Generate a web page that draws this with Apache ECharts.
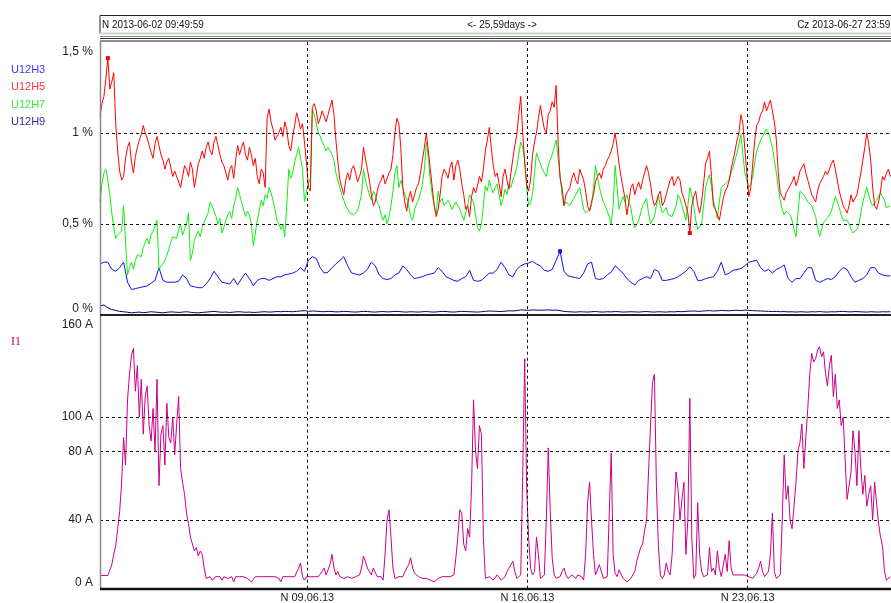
<!DOCTYPE html>
<html>
<head>
<meta charset="utf-8">
<script src="https://cdn.jsdelivr.net/npm/echarts@6/dist/echarts.min.js"></script>
<style>
html, body { margin: 0; padding: 0; background: #fff; }
#chart { width: 891px; height: 603px; }
</style>
</head>
<body>
<div id="chart"></div>
<script>
// Time is counted in days from 2013-06-02 00:00, first sample at 09:49:59.
// U12H3 / U12H9 are logged every 3 hours, U12H5 / U12H7 / I1 every 1.5 hours.
const startDay = 0.4097;
const endDay = 26.0;
const coarseStep = 0.125;
const fineStep = 0.0625;

// Harmonic voltage distortion, % of fundamental (3 h samples)
const U12H3 = [
  0.28,0.29,0.29,0.25,0.24,0.26,0.29,0.18,0.14,0.145,
  0.15,0.155,0.16,0.175,0.19,0.26,0.19,0.18,0.18,0.18,
  0.185,0.22,0.2,0.16,0.155,0.15,0.15,0.17,0.2,0.24,
  0.21,0.18,0.175,0.17,0.2,0.165,0.2,0.23,0.2,0.16,
  0.19,0.2,0.2,0.19,0.2,0.21,0.21,0.22,0.225,0.23,
  0.24,0.26,0.24,0.3,0.32,0.31,0.26,0.23,0.235,0.26,
  0.28,0.3,0.32,0.27,0.23,0.225,0.22,0.23,0.25,0.29,
  0.27,0.22,0.2,0.195,0.2,0.22,0.23,
  0.27,0.25,0.22,0.2,0.205,0.21,0.22,0.225,0.23,0.26,
  0.24,0.21,0.2,0.19,0.185,0.2,0.21,0.245,0.19,0.185,
  0.19,0.21,0.23,0.23,0.25,0.29,0.26,0.22,0.21,0.25,
  0.27,0.28,0.285,0.295,0.28,0.27,0.245,0.24,0.25,0.3,
  0.35,0.24,0.215,0.21,0.205,0.2,0.23,0.28,0.29,0.2,
  0.195,0.2,0.22,0.235,0.27,0.25,0.23,0.2,0.18,0.165,
  0.19,0.2,0.21,
  0.2,0.25,0.24,0.19,0.19,0.195,0.2,0.21,0.225,0.24,
  0.265,0.24,0.19,0.19,0.2,0.205,0.21,0.24,0.29,0.22,
  0.23,0.245,0.25,0.255,0.27,0.29,0.295,0.3,0.26,0.24,
  0.25,0.23,0.25,0.26,0.275,0.2,0.18,0.2,0.2,0.23,
  0.26,0.26,0.19,0.18,0.19,0.2,0.195,0.21,0.24,0.26,
  0.25,0.21,0.18,0.19,0.2,0.22,0.26,0.26,0.23,0.22,
  0.215,0.215
];
const U12H9 = [
  0.05,0.055,0.04,0.03,0.025,0.02,0.018,0.015,0.012,0.014,
  0.016,0.013,0.015,0.018,0.016,0.014,0.012,0.015,0.017,0.016,
  0.014,0.016,0.018,0.015,0.013,0.012,0.014,0.016,0.018,0.02,
  0.017,0.015,0.016,0.014,0.016,0.018,0.017,0.015,0.016,0.014,
  0.015,0.017,0.018,0.016,0.017,0.019,0.018,0.02,0.019,0.018,
  0.02,0.022,0.024,0.02,0.022,0.021,0.019,0.018,0.02,0.019,
  0.017,0.018,0.02,0.019,0.017,0.016,0.018,0.02,0.019,0.017,
  0.016,0.018,0.019,0.017,0.018,0.02,0.019,
  0.017,0.016,0.018,0.017,0.016,0.018,0.019,0.017,0.016,0.018,
  0.02,0.019,0.017,0.016,0.018,0.02,0.019,0.018,0.017,0.016,
  0.018,0.02,0.022,0.021,0.02,0.019,0.021,0.023,0.022,0.024,
  0.028,0.027,0.026,0.028,0.027,0.026,0.027,0.028,0.026,0.027,
  0.024,0.02,0.018,0.017,0.016,0.018,0.017,0.016,0.018,0.019,
  0.017,0.016,0.018,0.017,0.019,0.018,0.016,0.017,0.018,0.017,
  0.016,0.018,0.019,
  0.017,0.016,0.018,0.017,0.016,0.018,0.017,0.019,0.018,0.02,
  0.021,0.022,0.02,0.021,0.023,0.024,0.022,0.023,0.025,0.024,
  0.023,0.025,0.026,0.024,0.027,0.025,0.024,0.023,0.022,0.021,
  0.02,0.019,0.02,0.018,0.019,0.017,0.018,0.016,0.018,0.017,
  0.016,0.018,0.017,0.019,0.017,0.016,0.018,0.017,0.019,0.02,
  0.018,0.017,0.019,0.018,0.017,0.016,0.018,0.017,0.016,0.018,
  0.017,0.018
];

// Harmonic voltage distortion, % of fundamental (1.5 h samples)
const U12H5 = [
  1.09,1.16,1.2,1.3,1.41,1.24,1.28,1.33,1.05,0.9,0.79,0.74,0.76,0.86,0.92,0.95,0.84,0.78,0.87,0.92,
  0.96,0.99,1.04,1.0,0.97,0.93,0.89,0.86,0.94,0.98,0.93,0.88,0.85,0.8,0.84,0.86,0.81,0.76,0.79,0.8,
  0.73,0.7,0.76,0.82,0.8,0.76,0.84,0.8,0.7,0.76,0.83,0.86,0.9,0.86,0.92,0.95,0.9,0.88,0.95,0.98,
  0.93,0.88,0.84,0.82,0.78,0.74,0.8,0.82,0.75,0.85,0.93,0.88,0.92,0.95,0.88,0.85,0.92,0.88,0.82,0.86,
  0.76,0.72,0.8,0.78,0.7,1.08,1.13,1.06,1.02,0.96,0.97,1.0,1.03,0.98,1.06,1.02,0.93,0.9,0.98,1.04,
  1.11,1.07,1.02,1.05,0.95,0.84,0.7,0.68,1.14,1.16,1.12,1.05,1.08,1.12,1.11,1.06,1.1,1.14,1.18,1.1,
  0.96,0.84,0.74,0.7,0.66,0.74,0.78,0.74,0.8,0.82,0.78,0.73,0.76,0.8,0.92,0.86,0.8,0.74,0.66,0.6,
  0.62,0.68,0.72,0.74,0.77,0.72,0.75,0.78,0.8,0.88,1.0,1.08,1.05,0.92,0.7,0.62,0.57,0.64,0.68,0.62,
  0.66,0.7,0.72,0.78,0.85,0.92,1.0,0.9,0.8,0.7,0.6,0.54,0.58,0.66,0.76,0.8,0.78,0.75,0.81,0.84,
  0.74,0.82,0.85,0.8,0.72,0.66,0.58,0.6,0.54,0.65,0.7,0.67,0.71,0.76,0.73,0.8,0.9,0.96,1.03,0.92,
  0.82,0.76,0.78,0.72,0.65,0.76,0.8,0.74,0.69,0.78,0.86,0.93,0.99,1.1,1.2,1.0,0.84,0.72,0.68,0.74,
  0.88,0.95,1.0,1.08,1.15,1.08,1.02,1.0,1.1,1.12,1.17,1.14,1.26,0.95,0.75,0.7,0.6,0.66,0.67,0.7,
  0.75,0.78,0.74,0.72,0.8,0.79,0.74,0.68,0.6,0.57,0.62,0.66,0.73,0.76,0.78,0.75,0.8,0.82,0.85,0.87,
  0.9,0.94,1.0,0.92,0.83,0.76,0.7,0.64,0.55,0.62,0.7,0.72,0.66,0.7,0.73,0.69,0.74,0.78,0.82,0.78,
  0.72,0.64,0.6,0.62,0.66,0.68,0.6,0.62,0.66,0.7,0.74,0.76,0.71,0.7,0.76,0.74,0.67,0.64,0.6,0.56,
  0.45,0.6,0.65,0.68,0.6,0.56,0.62,0.72,0.83,0.86,0.9,0.76,0.6,0.58,0.55,0.52,0.58,0.64,0.68,0.7,
  0.74,0.8,0.85,0.9,0.96,1.0,1.1,1.05,0.91,0.78,0.65,0.7,0.83,0.96,1.04,1.06,1.1,1.12,1.17,1.12,
  1.15,1.18,1.12,1.06,0.96,0.78,0.67,0.66,0.63,0.67,0.69,0.68,0.73,0.76,0.71,0.74,0.79,0.8,0.83,0.78,
  0.74,0.7,0.66,0.65,0.62,0.68,0.72,0.72,0.76,0.79,0.77,0.78,0.83,0.85,0.8,0.74,0.68,0.64,0.6,0.58,
  0.56,0.6,0.66,0.62,0.63,0.66,0.72,0.78,0.85,0.92,1.0,0.94,0.85,0.7,0.6,0.58,0.62,0.68,0.76,0.74,
  0.78,0.8,0.76
];
const U12H7 = [
  0.62,0.72,0.78,0.8,0.74,0.66,0.56,0.48,0.42,0.44,0.43,0.46,0.6,0.4,0.22,0.26,0.29,0.25,0.3,0.33,
  0.34,0.32,0.37,0.4,0.42,0.39,0.44,0.46,0.47,0.52,0.25,0.24,0.28,0.3,0.33,0.36,0.4,0.43,0.44,0.42,
  0.47,0.5,0.44,0.47,0.5,0.56,0.3,0.34,0.41,0.44,0.46,0.43,0.48,0.51,0.52,0.56,0.62,0.6,0.57,0.54,
  0.5,0.53,0.45,0.48,0.52,0.55,0.57,0.53,0.6,0.64,0.7,0.66,0.62,0.58,0.54,0.57,0.55,0.5,0.38,0.45,
  0.52,0.57,0.63,0.6,0.66,0.64,0.7,0.67,0.63,0.58,0.52,0.5,0.47,0.5,0.43,0.6,0.8,0.75,0.78,0.84,
  0.88,0.92,0.93,0.8,0.62,0.68,0.72,0.75,1.13,1.1,1.05,1.0,0.98,0.95,0.93,0.9,0.92,0.9,0.88,0.85,
  0.78,0.74,0.7,0.66,0.63,0.6,0.59,0.56,0.57,0.55,0.54,0.57,0.56,0.66,0.8,0.74,0.7,0.66,0.63,0.68,
  0.66,0.62,0.6,0.55,0.52,0.55,0.5,0.54,0.6,0.68,0.78,0.82,0.7,0.74,0.7,0.66,0.64,0.6,0.54,0.52,
  0.58,0.61,0.63,0.67,0.72,0.8,0.95,0.86,0.74,0.66,0.6,0.55,0.68,0.62,0.64,0.6,0.59,0.63,0.61,0.58,
  0.59,0.62,0.63,0.58,0.55,0.52,0.56,0.6,0.66,0.64,0.62,0.55,0.48,0.46,0.5,0.6,0.71,0.68,0.74,0.7,
  0.67,0.7,0.72,0.66,0.6,0.64,0.69,0.66,0.72,0.7,0.74,0.77,0.81,0.88,0.95,0.92,0.85,0.7,0.6,0.62,
  0.66,0.78,0.89,0.86,0.85,0.8,0.79,0.76,0.82,0.85,0.88,0.92,0.96,0.86,0.77,0.66,0.6,0.62,0.63,0.6,
  0.61,0.64,0.66,0.68,0.7,0.64,0.58,0.56,0.55,0.58,0.6,0.7,0.82,0.76,0.7,0.66,0.62,0.6,0.57,0.54,
  0.5,0.6,0.82,0.7,0.58,0.62,0.65,0.62,0.66,0.62,0.59,0.52,0.48,0.5,0.52,0.56,0.6,0.62,0.64,0.56,
  0.5,0.52,0.54,0.6,0.66,0.6,0.56,0.57,0.59,0.55,0.56,0.54,0.53,0.6,0.66,0.64,0.6,0.56,0.52,0.6,
  0.7,0.66,0.6,0.52,0.47,0.48,0.5,0.6,0.7,0.74,0.77,0.7,0.63,0.58,0.53,0.62,0.7,0.71,0.72,0.73,
  0.74,0.78,0.81,0.85,0.89,0.94,0.99,0.88,0.78,0.74,0.7,0.72,0.76,0.84,0.9,0.93,0.96,0.98,0.99,1.02,
  1.0,0.96,0.92,0.85,0.78,0.7,0.63,0.58,0.55,0.57,0.58,0.55,0.52,0.47,0.43,0.56,0.68,0.67,0.66,0.64,
  0.62,0.61,0.6,0.57,0.54,0.48,0.43,0.47,0.51,0.52,0.53,0.55,0.57,0.61,0.65,0.62,0.59,0.55,0.52,0.53,
  0.52,0.5,0.47,0.45,0.44,0.47,0.5,0.56,0.62,0.66,0.7,0.66,0.62,0.6,0.6,0.63,0.65,0.67,0.68,0.63,
  0.59,0.6,0.6
];

// Phase current, A (1.5 h samples)
const I1 = [
  7.7,7.7,7.7,7.7,7.7,7,14,20,25,35,45,62,88,72,110,125,136,140,115,130,
  100,122,90,112,118,95,86,105,80,122,60,90,95,72,108,88,85,100,78,96,
  112,70,62,55,44,38,30,26,22,24,19,22,20,12,6,7,7,5,6,7,
  7,7,5,7,7,6,6,7,4,7,7,7,7,7,7,6,7,4,4,7,
  7,7,7,7,7,7,7,7,7,7,7,6,4,7,6,7,7,7,7,7,
  8,12,15,7,5,7,6,7,7,7,7,7,7,10,12,8,9,14,20,12,
  8,10,7,7,6,7,7,6,6,7,7,7,8,12,19,16,12,10,8,12,
  11,7,6,7,5,20,40,46,30,12,6,7,7,7,7,8,12,14,18,12,
  9,8,7,7,6,6,6,7,5,6,4,5,6,7,7,7,7,7,7,7,
  8,18,30,46,44,26,22,35,30,60,110,80,70,95,90,30,6,7,7,6,
  5,6,8,7,5,6,7,10,12,14,16,10,6,7,8,66,134,60,30,12,
  8,10,30,20,6,7,8,40,82,45,18,8,6,7,7,10,12,8,6,7,
  8,7,6,8,7,7,5,20,50,62,40,20,8,7,14,10,6,7,7,8,
  79,20,9,7,11,12,6,7,4,5,6,8,10,16,20,24,26,34,40,68,
  95,120,125,60,25,8,6,8,15,10,8,20,45,68,58,40,52,62,20,40,
  111,30,6,8,50,20,10,7,7,8,24,10,12,8,22,12,7,8,20,10,
  28,12,8,7,8,7,8,7,8,7,7,7,6,7,9,12,16,10,7,8,
  10,20,44,10,6,7,8,40,78,52,60,40,35,48,62,80,85,96,70,88,
  105,125,137,132,134,139,141,135,138,126,118,130,136,112,125,105,110,95,100,75,
  52,60,68,92,80,60,92,70,55,66,48,55,60,40,62,50,38,30,25,10,
  5,6,7
];

// Axis ticks and labels
const pctTicks = [0, 0.5, 1, 1.5];
const pctLabels = ['0 %', '0,5 %', '1 %', '1,5 %'];
const ampTicks = [0, 40, 80, 100, 160];
const dateTicks = [7, 14, 21];
const dateLabels = ['N 09.06.13', 'N 16.06.13', 'N 23.06.13'];
const pctGrid = [0.5, 1];
const ampGrid = [40, 80, 100];

const timeline = (arr, step) => arr.map((v, i) => [+(startDay + i * step).toFixed(5), v]);

const labelFont = { fontFamily: 'Liberation Sans', fontSize: 12, color: '#222' };
const dash = { type: [3, 3], color: '#111', width: 1 };

function gridMarks(levels) {
  return {
    silent: true,
    symbol: ['none', 'none'],
    label: { show: false },
    animation: false,
    lineStyle: dash,
    emphasis: { disabled: true },
    data: levels.map(v => ({ yAxis: v })).concat(dateTicks.map(d => ({ xAxis: d })))
  };
}

function lineSeries(name, data, step, color, axis, extra) {
  return Object.assign({
    name: name,
    type: 'line',
    xAxisIndex: axis,
    yAxisIndex: axis,
    data: timeline(data, step),
    showSymbol: false,
    symbol: 'none',
    sampling: null,
    lineStyle: { color: color, width: 1 },
    itemStyle: { color: color },
    emphasis: { disabled: true },
    animation: false
  }, extra || {});
}

function extremeMarks(color, kinds) {
  return {
    symbol: 'rect', symbolSize: 4, silent: true, label: { show: false },
    itemStyle: { color: color }, data: kinds.map(k => ({ type: k }))
  };
}

const chart = echarts.init(document.getElementById('chart'), null, { renderer: 'canvas', width: 891, height: 603 });

const headerFont = { fontFamily: 'Liberation Sans', fontSize: 11, fill: '#111', verticalAlign: 'middle' };

const option = {
  backgroundColor: '#fff',
  animation: false,
  grid: [
    { left: 100, right: -14, top: 41.7, height: 273.3, containLabel: false, outerBoundsMode: 'none' },
    { left: 100, right: -14, top: 314, height: 274.7, containLabel: false, outerBoundsMode: 'none' }
  ],
  xAxis: [
    { gridIndex: 0, type: 'value', min: startDay, max: endDay, show: false },
    {
      gridIndex: 1, type: 'value', min: startDay, max: endDay,
      axisLine: { show: false }, axisTick: { show: false }, splitLine: { show: false },
      axisLabel: {
        customValues: dateTicks,
        margin: 4,
        fontSize: 11,
        fontFamily: 'Liberation Sans',
        color: '#222',
        formatter: v => dateLabels[dateTicks.indexOf(Math.round(v))] || ''
      }
    }
  ],
  yAxis: [
    {
      gridIndex: 0, type: 'value', min: 0, max: 1.5, interval: 0.5,
      axisLine: { show: false }, axisTick: { show: false }, splitLine: { show: false },
      axisLabel: Object.assign({
        margin: 7,
        verticalAlignMinLabel: 'bottom',
        verticalAlignMaxLabel: 'top',
        rich: { top: { padding: [4, 0, 0, 0], fontFamily: 'Liberation Sans', fontSize: 12, color: '#222' } },
        formatter: v => {
          const k = pctTicks.findIndex(t => Math.abs(t - v) < 1e-6);
          if (k < 0) return '';
          return k === pctTicks.length - 1 ? '{top|' + pctLabels[k] + '}' : pctLabels[k];
        }
      }, labelFont)
    },
    {
      gridIndex: 1, type: 'value', min: 0, max: 160, interval: 20,
      axisLine: { show: false }, axisTick: { show: false }, splitLine: { show: false },
      axisLabel: Object.assign({
        margin: 7,
        verticalAlignMinLabel: 'bottom',
        verticalAlignMaxLabel: 'top',
        rich: { top: { padding: [5, 0, 0, 0], fontFamily: 'Liberation Sans', fontSize: 12, color: '#222' } },
        formatter: v => {
          const a = Math.round(v);
          if (ampTicks.indexOf(a) < 0) return '';
          return a === 160 ? '{top|' + a + ' A}' : a + ' A';
        }
      }, labelFont)
    }
  ],
  series: [
    lineSeries('U12H9', U12H9, coarseStep, '#000080', 0, { markLine: gridMarks(pctGrid) }),
    lineSeries('U12H3', U12H3, coarseStep, '#1010f0', 0, { markPoint: extremeMarks('#1010f0', ['max']) }),
    lineSeries('U12H7', U12H7, fineStep, '#10ee10', 0),
    lineSeries('U12H5', U12H5, fineStep, '#ff0000', 0, { markPoint: extremeMarks('#ff0000', ['max', 'min']) }),
    lineSeries('I1', I1, fineStep, '#c8008a', 1, { markLine: gridMarks(ampGrid) })
  ],
  graphic: [
    // header bar with the time span
    { type: 'rect', shape: { x: 100, y: 15.5, width: 820, height: 18 }, style: { fill: '#fff', stroke: '#222', lineWidth: 1 }, z: 10 },
    { type: 'line', shape: { x1: 100, y1: 33.5, x2: 891, y2: 33.5 }, style: { stroke: '#c4dcc4', lineWidth: 2 }, z: 11 },
    { type: 'line', shape: { x1: 100, y1: 36.5, x2: 891, y2: 36.5 }, style: { stroke: '#888', lineWidth: 1 }, z: 11 },
    { type: 'line', shape: { x1: 100, y1: 38.5, x2: 891, y2: 38.5 }, style: { stroke: '#333', lineWidth: 1 }, z: 11 },
    { type: 'line', shape: { x1: 100, y1: 41, x2: 891, y2: 41 }, style: { stroke: '#222', lineWidth: 1.2 }, z: 11 },
    { type: 'text', x: 102, y: 25, scaleX: 0.9, z: 12, style: Object.assign({ text: 'N 2013-06-02 09:49:59', align: 'left' }, headerFont) },
    { type: 'text', x: 502, y: 25, scaleX: 0.9, z: 12, style: Object.assign({ text: '<- 25,59days ->', align: 'center' }, headerFont) },
    { type: 'text', x: 904, y: 25, scaleX: 0.9, z: 12, style: Object.assign({ text: 'Cz 2013-06-27 23:59:59', align: 'right' }, headerFont) },
    // panel frames
    { type: 'line', shape: { x1: 100.5, y1: 41, x2: 100.5, y2: 589 }, style: { stroke: '#888', lineWidth: 1.5 }, z: 11 },
    { type: 'line', shape: { x1: 100, y1: 315, x2: 891, y2: 315 }, style: { stroke: '#222', lineWidth: 2 }, z: 11 },
    { type: 'line', shape: { x1: 100, y1: 589, x2: 891, y2: 589 }, style: { stroke: '#111', lineWidth: 2.5 }, z: 11 },
    // series names
    { type: 'text', x: 11, y: 70, style: { text: 'U12H3', fontFamily: 'Liberation Sans', fontSize: 11, fill: '#3c3cff', verticalAlign: 'middle' } },
    { type: 'text', x: 11, y: 87, style: { text: 'U12H5', fontFamily: 'Liberation Sans', fontSize: 11, fill: '#ff3333', verticalAlign: 'middle' } },
    { type: 'text', x: 11, y: 105, style: { text: 'U12H7', fontFamily: 'Liberation Sans', fontSize: 11, fill: '#33ee33', verticalAlign: 'middle' } },
    { type: 'text', x: 11, y: 122, style: { text: 'U12H9', fontFamily: 'Liberation Sans', fontSize: 11, fill: '#303090', verticalAlign: 'middle' } },
    { type: 'text', x: 11, y: 342, style: { text: 'I1', fontFamily: 'Liberation Serif', fontSize: 12, fill: '#c0007a', verticalAlign: 'middle' } }
  ]
};

chart.setOption(option);
</script>
</body>
</html>
